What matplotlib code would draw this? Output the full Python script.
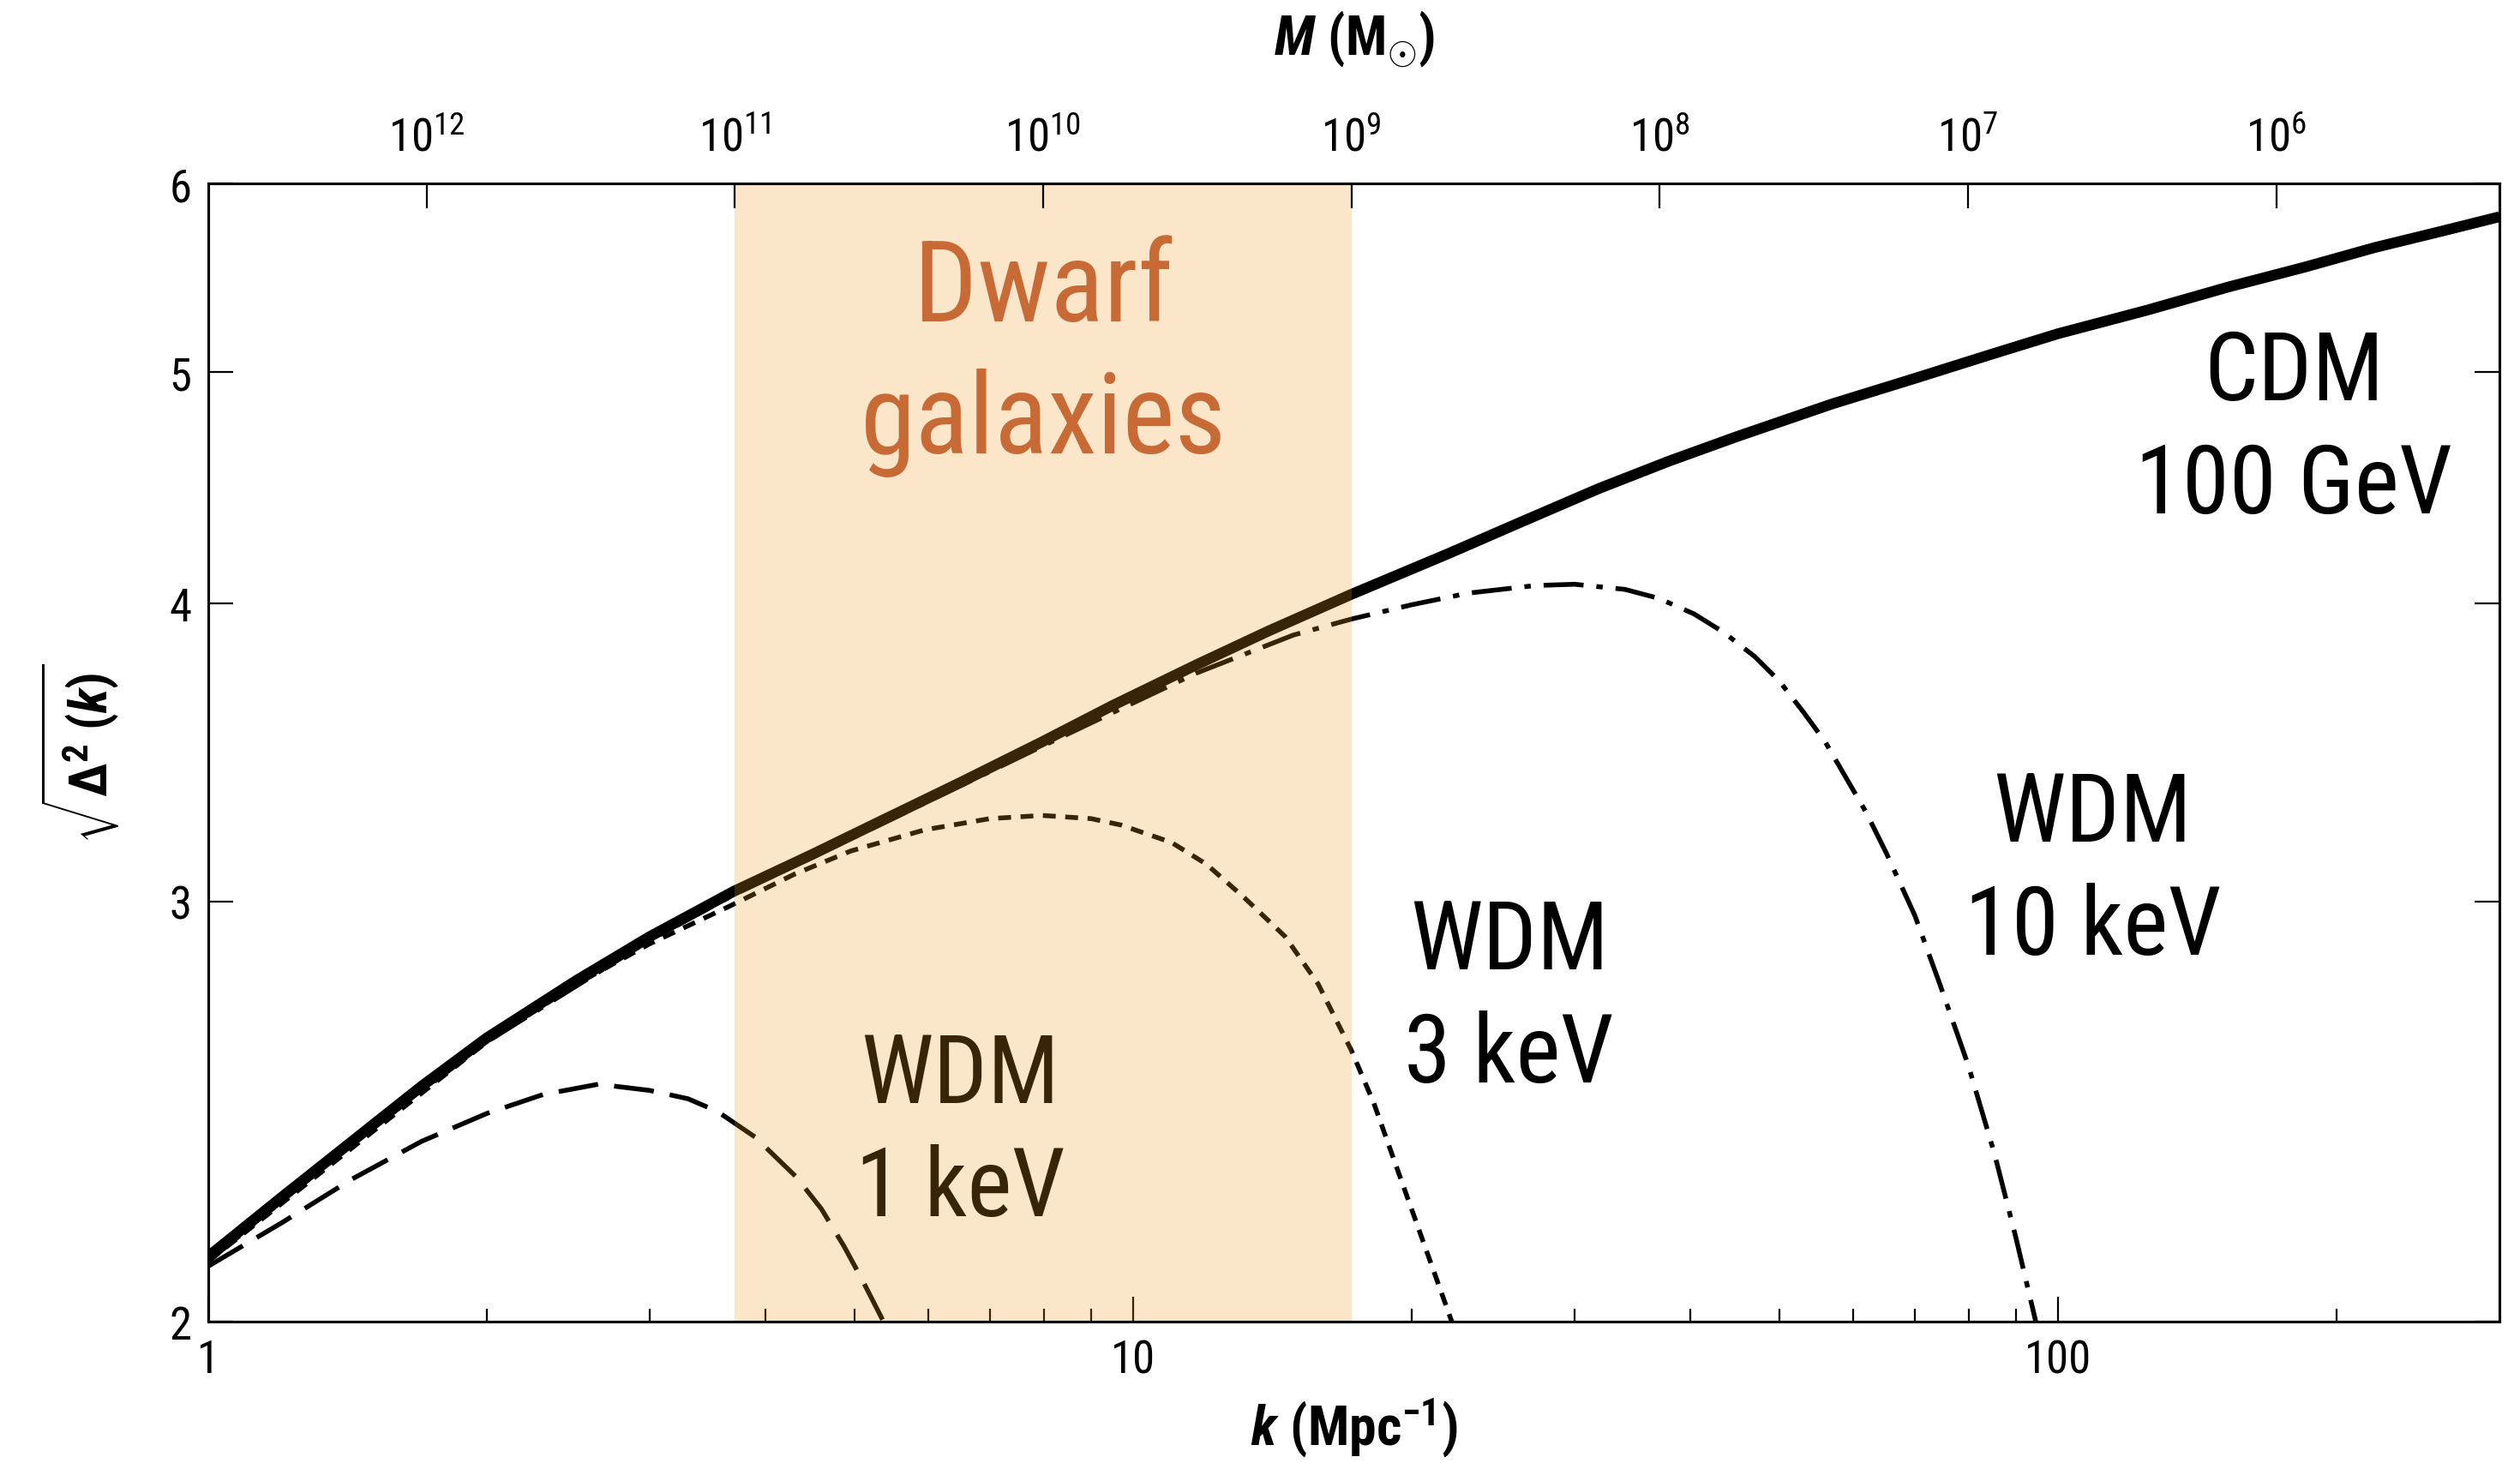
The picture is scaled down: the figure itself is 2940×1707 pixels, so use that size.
import numpy as np
import matplotlib
matplotlib.use("Agg")
import matplotlib.pyplot as plt
from matplotlib import font_manager as fm
from matplotlib.ticker import FixedLocator, NullFormatter, NullLocator, FixedFormatter


def pick_condensed_family():
    entries = fm.fontManager.ttflist
    for fam in ["Liberation Sans Narrow", "Roboto Condensed", "Open Sans Condensed",
                "Noto Sans", "DejaVu Sans", "Open Sans", "Roboto"]:
        for f in entries:
            if f.name != fam:
                continue
            if "Narrow" in fam or "Condensed" in fam:
                return fam, False
            if "condensed" in str(f.stretch) or "Condensed" in f.fname:
                return fam, True
    return "DejaVu Sans", False


family, need_stretch = pick_condensed_family()
stretch = "condensed" if need_stretch else "normal"
plt.rcParams["font.family"] = [family, "DejaVu Sans"]
plt.rcParams["font.stretch"] = stretch
base = family + (":stretch=condensed" if need_stretch else "")
plt.rcParams["mathtext.fontset"] = "custom"
plt.rcParams["mathtext.rm"] = base
plt.rcParams["mathtext.it"] = base + ":style=italic"
plt.rcParams["mathtext.bf"] = base + ":weight=bold"
plt.rcParams["mathtext.bfit"] = base + ":weight=bold:style=italic"

# k (Mpc^-1) and sqrt(Delta^2(k))
k_cdm = [1, 1.2, 1.43, 1.7, 2, 2.5, 3, 3.7, 4.5, 5.27, 6.5, 7.97, 9.5, 11.7, 14,
         17.2, 22, 26, 31.9, 38, 45, 57, 69.9, 85, 100, 125, 153, 185, 220, 260, 300]
v_cdm = [2.13, 2.255, 2.38, 2.51, 2.63, 2.78, 2.90, 3.03, 3.14, 3.235, 3.365, 3.50,
         3.625, 3.77, 3.895, 4.035, 4.20, 4.32, 4.47, 4.59, 4.70, 4.85, 4.97, 5.09,
         5.19, 5.31, 5.43, 5.535, 5.64, 5.73, 5.81]

k_wdm1 = [1, 1.2, 1.43, 1.7, 2, 2.3, 2.64, 3.0, 3.3, 3.55, 3.9, 4.32, 4.6, 4.87, 5.1, 5.37]
v_wdm1 = [2.11, 2.20, 2.295, 2.38, 2.445, 2.49, 2.515, 2.50, 2.48, 2.45, 2.39, 2.30,
          2.23, 2.15, 2.08, 2.0]

k_wdm3 = [1, 1.5, 2, 2.5, 3, 3.65, 4.3, 4.95, 5.95, 7, 7.97, 9, 9.7, 11, 12, 13.2,
          14.6, 15.85, 17.2, 18.2, 19.2, 20.5, 21.9, 22.1]
v_wdm3 = [2.12, 2.40, 2.62, 2.77, 2.88, 2.985, 3.08, 3.15, 3.215, 3.25, 3.26, 3.25,
          3.23, 3.176, 3.11, 3.01, 2.90, 2.77, 2.60, 2.47, 2.33, 2.17, 2.02, 2.0]

k_wdm10 = [1, 1.43, 2, 3, 3.7, 5.27, 7.97, 9.5, 11.7, 14.9, 17.2, 20, 23, 27.2, 30,
           34, 37, 40.4, 43.5, 47, 50, 53.1, 56, 59, 62, 65.2, 70, 74.5, 80, 85.4, 90, 94.6]
v_wdm10 = [2.12, 2.375, 2.62, 2.89, 3.02, 3.225, 3.485, 3.60, 3.74, 3.88, 3.94, 3.995,
           4.04, 4.07, 4.075, 4.055, 4.02, 3.96, 3.89, 3.80, 3.71, 3.60, 3.50, 3.38,
           3.27, 3.144, 2.96, 2.77, 2.56, 2.35, 2.17, 2.0]

# halo mass relation M = C * k^-3 (top axis)
mass_const = 5.1e12
dwarf_mass = [1e11, 1e9]
mass_ticks = [1e12, 1e11, 1e10, 1e9, 1e8, 1e7, 1e6]
mass_labels = ["$10^{12}$", "$10^{11}$", "$10^{10}$", "$10^{9}$", "$10^{8}$", "$10^{7}$", "$10^{6}$"]

k_ticks = [1, 10, 100]
k_minor = [2, 3, 4, 5, 6, 7, 8, 9, 20, 30, 40, 50, 60, 70, 80, 90, 200]
y_ticks = [2, 3, 4, 5, 6]

k_min, k_max = 1, 300

fig = plt.figure(figsize=(29.4, 17.08), dpi=100)
ax = fig.add_axes([0.0827, 0.0966, 0.9091, 0.7775])
ax.set_xscale("log")
ax.set_yscale("log")
ax.set_xlim(k_min, k_max)
ax.set_ylim(2, 6)

lw_thin = 4.0
ax.plot(k_wdm1, v_wdm1, color="black", lw=lw_thin, dashes=(8.4, 3.4), zorder=2)
ax.plot(k_wdm3, v_wdm3, color="black", lw=lw_thin, dashes=(2.7, 2.0), zorder=2)
ax.plot(k_wdm10, v_wdm10, color="black", lw=lw_thin, dashes=(8.4, 2.7, 1.35, 2.7), zorder=2)
ax.plot(k_cdm, v_cdm, color="black", lw=9, solid_capstyle="butt",
        solid_joinstyle="round", zorder=2.2)

k_dwarf = [(mass_const / m) ** (1 / 3) for m in dwarf_mass]
ax.axvspan(k_dwarf[0], k_dwarf[1], color="#f29a21", alpha=0.24, lw=0, zorder=3)

text_kw = dict(ha="center", va="center", fontsize=80, linespacing=1.3)
ax.text(180, 4.73, "CDM\n100 GeV", color="black", zorder=2, **text_kw)
ax.text(109, 3.09, "WDM\n10 keV", color="black", zorder=2, **text_kw)
ax.text(25.5, 2.73, "WDM\n3 keV", color="black", zorder=2, **text_kw)
ax.text(6.5, 2.40, "WDM\n1 keV", color="black", zorder=2, **text_kw)
ax.text(8.0, 5.08, "Dwarf\ngalaxies", color="#c86a35", ha="center", va="center",
        fontsize=94, linespacing=1.28, zorder=4)

# axes styling
for sp in ax.spines.values():
    sp.set_linewidth(2.2)
ax.xaxis.set_major_locator(FixedLocator(k_ticks))
ax.xaxis.set_major_formatter(FixedFormatter([str(t) for t in k_ticks]))
ax.xaxis.set_minor_locator(FixedLocator(k_minor))
ax.xaxis.set_minor_formatter(NullFormatter())
ax.yaxis.set_major_locator(FixedLocator(y_ticks))
ax.yaxis.set_major_formatter(FixedFormatter([str(t) for t in y_ticks]))
ax.yaxis.set_minor_locator(NullLocator())
ax.tick_params(axis="both", which="major", direction="in", length=21, width=1.6,
               labelsize=38, pad=14, right=True, top=False)
ax.tick_params(axis="x", which="minor", direction="in", length=11, width=1.6, top=False)

ax.set_xlabel(r"$\mathbfit{k}\ \mathbf{(Mpc^{-1})}$", fontsize=46, labelpad=11)
ax.set_ylabel(r"$\sqrt{\mathbf{\Delta^2\ (}\mathbfit{k}\mathbf{)}}$", fontsize=44, labelpad=40)

top = ax.twiny()
top.set_xscale("log")
top.set_xlim(mass_const / k_min ** 3, mass_const / k_max ** 3)
top.xaxis.set_major_locator(FixedLocator(mass_ticks))
top.xaxis.set_major_formatter(FixedFormatter(mass_labels))
top.xaxis.set_minor_locator(NullLocator())
top.tick_params(axis="x", which="major", direction="in", length=21, width=1.6,
                labelsize=38, pad=20)
top.set_xlabel(r"$\mathbfit{M}\ \mathbf{(M_{\odot})}$", fontsize=46, labelpad=52)
for sp in top.spines.values():
    sp.set_linewidth(2.2)

fig.savefig("out.png", dpi=100)
